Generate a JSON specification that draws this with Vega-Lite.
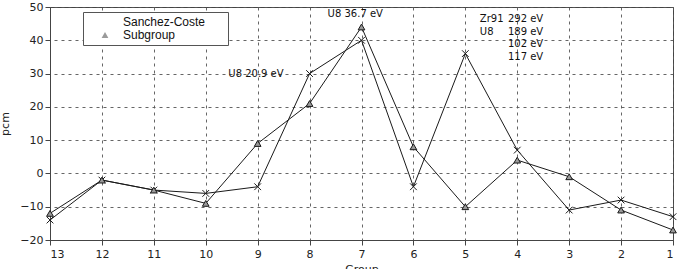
{
  "$schema": "https://vega.github.io/schema/vega-lite/v6.json",
  "width": 623,
  "height": 233,
  "autosize": {"type": "none"},
  "padding": {"left": 50, "top": 7, "right": 8, "bottom": 29},
  "background": "white",
  "config": {
    "view": {"stroke": "#444", "strokeWidth": 1},
    "axis": {
      "labelFont": "DejaVu Sans",
      "labelFontSize": 11,
      "labelColor": "#222",
      "titleFont": "DejaVu Sans",
      "titleFontSize": 11,
      "titleFontWeight": "normal",
      "titleColor": "#222",
      "domainColor": "#444",
      "tickColor": "#444",
      "tickSize": 5,
      "gridColor": "#555",
      "gridDash": [3, 4],
      "gridWidth": 1,
      "gridOpacity": 0.9,
      "labelOverlap": false
    }
  },
  "datasets": {
    "series": [
      {"group": 13, "pcm": -14, "series": "Sanchez-Coste"},
      {"group": 12, "pcm": -2, "series": "Sanchez-Coste"},
      {"group": 11, "pcm": -5, "series": "Sanchez-Coste"},
      {"group": 10, "pcm": -6, "series": "Sanchez-Coste"},
      {"group": 9, "pcm": -4, "series": "Sanchez-Coste"},
      {"group": 8, "pcm": 30, "series": "Sanchez-Coste"},
      {"group": 7, "pcm": 40, "series": "Sanchez-Coste"},
      {"group": 6, "pcm": -4, "series": "Sanchez-Coste"},
      {"group": 5, "pcm": 36, "series": "Sanchez-Coste"},
      {"group": 4, "pcm": 7, "series": "Sanchez-Coste"},
      {"group": 3, "pcm": -11, "series": "Sanchez-Coste"},
      {"group": 2, "pcm": -8, "series": "Sanchez-Coste"},
      {"group": 1, "pcm": -13, "series": "Sanchez-Coste"},
      {"group": 13, "pcm": -12, "series": "Subgroup"},
      {"group": 12, "pcm": -2, "series": "Subgroup"},
      {"group": 11, "pcm": -5, "series": "Subgroup"},
      {"group": 10, "pcm": -9, "series": "Subgroup"},
      {"group": 9, "pcm": 9, "series": "Subgroup"},
      {"group": 8, "pcm": 21, "series": "Subgroup"},
      {"group": 7, "pcm": 44, "series": "Subgroup"},
      {"group": 6, "pcm": 8, "series": "Subgroup"},
      {"group": 5, "pcm": -10, "series": "Subgroup"},
      {"group": 4, "pcm": 4, "series": "Subgroup"},
      {"group": 3, "pcm": -1, "series": "Subgroup"},
      {"group": 2, "pcm": -11, "series": "Subgroup"},
      {"group": 1, "pcm": -17, "series": "Subgroup"}
    ],
    "notesRight": [
      {"group": 8.5, "pcm": 30, "label": "U8 20.9 eV"},
      {"group": 3.5, "pcm": 46.4, "label": "292 eV"},
      {"group": 3.5, "pcm": 42.5, "label": "189 eV"},
      {"group": 3.5, "pcm": 38.9, "label": "102 eV"},
      {"group": 3.5, "pcm": 35.0, "label": "117 eV"}
    ],
    "notesLeft": [
      {"group": 4.72, "pcm": 46.4, "label": "Zr91"},
      {"group": 4.72, "pcm": 42.5, "label": "U8"}
    ],
    "notesCenter": [
      {"group": 7.12, "pcm": 48, "label": "U8 36.7 eV"}
    ]
  },
  "encoding": {
    "x": {
      "field": "group", "type": "quantitative",
      "scale": {"domain": [1, 13], "reverse": true, "nice": false, "zero": false},
      "axis": {"title": "Group", "values": [1,2,3,4,5,6,7,8,9,10,11,12,13], "grid": true, "titlePadding": 4, "labelPadding": 3}
    },
    "y": {
      "field": "pcm", "type": "quantitative",
      "scale": {"domain": [-20, 50], "nice": false, "zero": false},
      "axis": {"title": "pcm", "values": [-20,-10,0,10,20,30,40,50], "grid": true, "titlePadding": 9, "labelPadding": 2}
    }
  },
  "layer": [
    {
      "data": {"name": "series"},
      "mark": {"type": "line", "color": "#1a1a1a", "strokeWidth": 1},
      "encoding": {
        "detail": {"field": "series"}
      }
    },
    {
      "data": {"name": "series"},
      "mark": {"type": "point", "filled": true, "stroke": "#1a1a1a", "strokeWidth": 1, "opacity": 1, "size": 45},
      "encoding": {
        "shape": {
          "field": "series", "type": "nominal",
          "scale": {"domain": ["Sanchez-Coste", "Subgroup"], "range": ["M-1,-1L1,1M-1,1L1,-1", "triangle-up"]},
          "legend": {
            "title": null,
            "orient": "none",
            "legendX": 33,
            "legendY": 5,
            "strokeColor": "#555",
            "fillColor": "white",
            "padding": 4,
            "rowPadding": 1,
            "symbolOffset": 12,
            "labelOffset": 12,
            "labelFont": "Liberation Sans",
            "labelFontSize": 12,
            "labelColor": "#111",
            "labelLimit": 300,
            "labelExpr": "datum.label + '\u2800\u2800'",
            "symbolStrokeColor": "#1a1a1a",
            "symbolStrokeWidth": 1,
            "symbolSize": 45
          }
        },
        "fill": {
          "field": "series", "type": "nominal",
          "scale": {"domain": ["Sanchez-Coste", "Subgroup"], "range": ["#1a1a1a", "#9a9a9a"]},
          "legend": null
        }
      }
    },
    {
      "data": {"name": "notesRight"},
      "mark": {"type": "text", "align": "right", "baseline": "middle", "font": "DejaVu Sans", "fontSize": 10, "color": "#111"},
      "encoding": {
        "text": {"field": "label"}
      }
    },
    {
      "data": {"name": "notesLeft"},
      "mark": {"type": "text", "align": "left", "baseline": "middle", "font": "DejaVu Sans", "fontSize": 10, "color": "#111"},
      "encoding": {
        "text": {"field": "label"}
      }
    },
    {
      "data": {"name": "notesCenter"},
      "mark": {"type": "text", "align": "center", "baseline": "middle", "font": "DejaVu Sans", "fontSize": 10, "color": "#111"},
      "encoding": {
        "text": {"field": "label"}
      }
    }
  ]
}
